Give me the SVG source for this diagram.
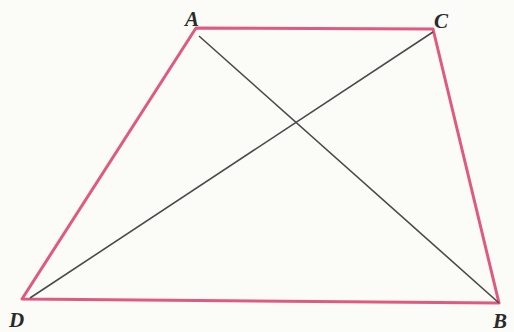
<svg xmlns="http://www.w3.org/2000/svg" width="514" height="332" viewBox="0 0 514 332">
<style>
.side{stroke:#e05a80;stroke-width:3;fill:none;stroke-linejoin:round}
.diag{stroke:#4a4a4a;stroke-width:1.6}
.lbl{font-family:"Liberation Serif",serif;font-style:italic;font-weight:bold;font-size:21px;fill:#2a2a2a}
</style>
<rect width="514" height="332" fill="#fbfbf7"/>
<g id="connectors">
<polygon class="side" points="196,28 433,29 499,303 22,299"/>
<line class="diag" x1="199" y1="36" x2="499" y2="303"/>
<line class="diag" x1="433" y1="32" x2="30" y2="298"/>
</g>
<g id="A"><text class="lbl" x="185" y="26">A</text></g>
<g id="C"><text class="lbl" x="434" y="28">C</text></g>
<g id="D"><text class="lbl" x="9" y="327">D</text></g>
<g id="B"><text class="lbl" x="493" y="328">B</text></g>
</svg>
